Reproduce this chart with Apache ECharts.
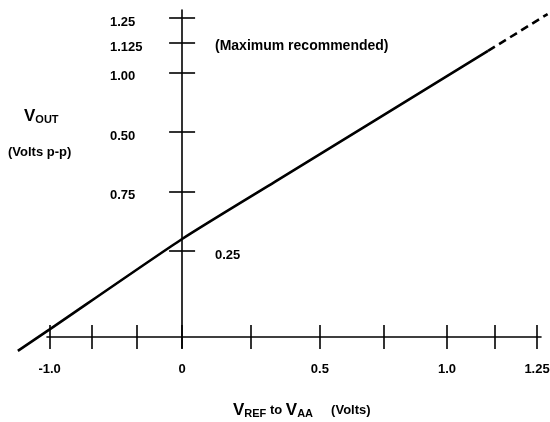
<!DOCTYPE html>
<html>
<head>
<meta charset="utf-8">
<script src="https://cdn.jsdelivr.net/npm/echarts@6/dist/echarts.min.js"></script>
<style>
  html, body { margin: 0; padding: 0; background: #fff; }
  #box { width: 550px; height: 422px; }
</style>
</head>
<body>
<div id="box"></div>
<script>
// x ticks as they sit on the drawing, with the text printed under them
var xTickPos = [-0.5, -0.34, -0.17, 0, 0.26, 0.52, 0.76, 1.0, 1.18, 1.34];
var xTickText = ['-1.0', '', '', '0', '', '0.5', '', '1.0', '', '1.25'];
// y ticks and the text printed beside them (as in the original)
var yTickPos = [0.25, 0.5, 0.75, 1.0, 1.125, 1.23];
var yTickText = ['0.25', '0.75', '0.50', '1.00', '1.125', '1.25'];
// Vout against Vref to Vaa
var voutSolid = [[-0.62, -0.17], [-0.5, -0.08], [0, 0.30], [0.35, 0.54], [1.155, 1.09]];
var voutDashed = [[1.155, 1.09], [1.38, 1.245]];

var FONT = 'Liberation Sans, Arial, sans-serif';
var W = 550, H = 422;
// axes frame
var G = { left: 47, right: 9, top: 10, bottom: 74 };
var X_MIN = -0.51, X_MAX = 1.355, Y_MIN = -0.158, Y_MAX = 1.262;
// wider frame with the same scale: carries the curve (it runs past the axes) and the inner tick halves
var G2 = { left: 10, right: 0, top: 0, bottom: 60 };
var kx = (W - G.left - G.right) / (X_MAX - X_MIN);
var ky = (H - G.top - G.bottom) / (Y_MAX - Y_MIN);
var X2_MIN = X_MIN - (G.left - G2.left) / kx, X2_MAX = X_MAX + (G.right - G2.right) / kx;
var Y2_MIN = Y_MIN - (G.bottom - G2.bottom) / ky, Y2_MAX = Y_MAX + (G.top - G2.top) / ky;
var AXIS_UP = 11; // x axis sits this far above the bottom of the axes frame

var xLabelPos = xTickPos.filter(function (v, i) { return xTickText[i] !== ''; });
var yLeftPos = yTickPos.filter(function (v) { return v !== 0.25; });

function xLabel(v) {
  var i = xTickPos.indexOf(v);
  return i < 0 ? '' : xTickText[i];
}
function yLabel(v) {
  var i = yTickPos.indexOf(v);
  return i < 0 ? '' : '{l|' + yTickText[i] + '}';
}

var line = { color: '#000', width: 1.6 };
var tickStyle = { color: '#000', width: 1.6 };
var txt = { color: '#000', fontFamily: FONT, fontWeight: 'bold', fontSize: 13 };

var myChart = echarts.init(document.getElementById('box'));
var option = {
  backgroundColor: '#fff',
  animation: false,
  grid: [
    Object.assign({ containLabel: false, outerBoundsMode: 'none' }, G),
    Object.assign({ containLabel: false, outerBoundsMode: 'none' }, G2)
  ],
  xAxis: [
    {
      type: 'value', gridIndex: 0, min: X_MIN, max: X_MAX, position: 'bottom', offset: -AXIS_UP,
      axisLine: { onZero: false, lineStyle: line },
      axisTick: { customValues: xTickPos, length: 12, lineStyle: tickStyle },
      axisLabel: Object.assign({ customValues: xLabelPos, formatter: xLabel, margin: 26 }, txt),
      splitLine: { show: false }
    },
    {
      type: 'value', gridIndex: 1, min: X2_MIN, max: X2_MAX, position: 'bottom',
      offset: -(AXIS_UP + G.bottom - G2.bottom),
      axisLine: { show: false, onZero: false },
      axisTick: { show: true, customValues: xTickPos, length: 12, inside: true, lineStyle: tickStyle },
      axisLabel: { show: false },
      splitLine: { show: false }
    }
  ],
  yAxis: [
    {
      type: 'value', gridIndex: 0, min: Y_MIN, max: Y_MAX, position: 'left',
      axisLine: { onZero: true, lineStyle: line },
      axisTick: { customValues: yTickPos, length: 13, lineStyle: tickStyle },
      // labels stay on the frame edge, so they are placed from there (left aligned at x=110)
      axisLabel: Object.assign({
        inside: true, customValues: yLeftPos, formatter: yLabel, margin: 63,
        rich: { l: Object.assign({ padding: [9, 0, 0, 0] }, txt) }
      }, txt),
      splitLine: { show: false }
    },
    {
      type: 'value', gridIndex: 1, min: Y2_MIN, max: Y2_MAX, position: 'left',
      axisLine: { show: false, onZero: true },
      axisTick: { show: true, customValues: yTickPos, length: 13, inside: true, lineStyle: tickStyle },
      // 0.25 is printed on the right hand side of the axis
      axisLabel: Object.assign({
        inside: true, customValues: [0.25], formatter: yLabel, margin: 205,
        rich: { l: Object.assign({ padding: [10, 0, 0, 0] }, txt) }
      }, txt),
      splitLine: { show: false }
    }
  ],
  graphic: [
    {
      type: 'text', left: 215, top: 39,
      style: { text: '(Maximum recommended)', font: 'bold 14px ' + FONT, fill: '#000' }
    },
    {
      type: 'text', left: 24, top: 108,
      style: {
        text: '{v|V}{s|OUT}', fill: '#000',
        rich: {
          v: { font: 'bold 17px ' + FONT, fill: '#000' },
          s: { font: 'bold 11px ' + FONT, fill: '#000', padding: [6, 0, 0, 0] }
        }
      }
    },
    {
      type: 'text', left: 8, top: 146,
      style: { text: '(Volts p-p)', font: 'bold 13px ' + FONT, fill: '#000' }
    },
    {
      type: 'text', left: 233, top: 402,
      style: {
        text: '{v|V}{s|REF}{t| to }{v|V}{s|AA}{t|     (Volts)}', fill: '#000',
        rich: {
          v: { font: 'bold 17px ' + FONT, fill: '#000' },
          s: { font: 'bold 11px ' + FONT, fill: '#000', padding: [6, 0, 0, 0] },
          t: { font: 'bold 13px ' + FONT, fill: '#000' }
        }
      }
    }
  ],
  series: [
    {
      type: 'line', xAxisIndex: 1, yAxisIndex: 1, data: voutSolid, symbol: 'none', smooth: 0.2,
      lineStyle: { color: '#000', width: 2.6 }
    },
    {
      type: 'line', xAxisIndex: 1, yAxisIndex: 1, data: voutDashed, symbol: 'none',
      lineStyle: { color: '#000', width: 2.6, type: [8, 5] }
    }
  ]
};
myChart.setOption(option);
</script>
</body>
</html>
